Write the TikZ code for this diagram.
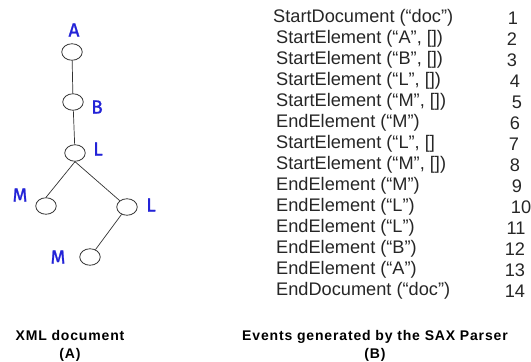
\documentclass[tikz,border=0pt]{standalone}
\usepackage{fontspec}
\usetikzlibrary{shapes.geometric}
\setmainfont{Liberation Sans}
\newfontfamily\lblfont[FakeBold=1.2]{Fira Sans}
\newfontfamily\capfont[LetterSpace=6]{Liberation Sans Bold}
\definecolor{lblblue}{RGB}{35,35,215}
\definecolor{linegray}{RGB}{50,50,50}
\begin{document}
\begin{tikzpicture}[x=1pt,y=-1pt,
  tnode/.style={draw=linegray,line width=0.8pt,ellipse,minimum width=20.5pt,minimum height=16.5pt,inner sep=0pt},
  tlabel/.style={text=lblblue,font=\lblfont\fontsize{19}{19}\selectfont,inner sep=0pt},
  edge/.style={draw=linegray,line width=0.7pt},
  evt/.style={anchor=west,inner sep=0pt,text=black!85,font=\fontsize{18.2}{18.2}\selectfont},
  num/.style={anchor=center,inner sep=0pt,text=black!85,font=\fontsize{18.2}{18.2}\selectfont},
  captext/.style={anchor=center,inner sep=0pt,align=center,font=\capfont\fontsize{14}{18}\selectfont}]
\useasboundingbox (0,0) rectangle (531,362);
% tree
\node[tnode] (A) at (72,52) {};
\node[tnode] (B) at (73,102) {};
\node[tnode] (L1) at (75,153) {};
\node[tnode] (M1) at (46,206) {};
\node[tnode] (L2) at (127,207) {};
\node[tnode] (M2) at (90,257) {};
\node[tlabel] (lA) at (74,30) {A};
\node[tlabel] (lB) at (97,107) {B};
\node[tlabel] (lL1) at (98,149) {L};
\node[tlabel] (lM1) at (20,195) {M};
\node[tlabel] (lL2) at (151,205) {L};
\node[tlabel] (lM2) at (58,257) {M};
\draw[edge] (A) -- (B);
\draw[edge] (B) -- (L1);
\draw[edge] (L1.south) -- (M1.north);
\draw[edge] (L1.south) -- (L2);
\draw[edge] (L2) -- (M2);
% events
\node[evt] (e1) at (273,18) {StartDocument (“doc”)};
\node[evt] (e2) at (276,39) {StartElement (“A”, [])};
\node[evt] (e3) at (276,60) {StartElement (“B”, [])};
\node[evt] (e4) at (276,81) {StartElement (“L”, [])};
\node[evt] (e5) at (276,102) {StartElement (“M”, [])};
\node[evt] (e6) at (276,123) {EndElement (“M”)};
\node[evt] (e7) at (276,144) {StartElement (“L”, []};
\node[evt] (e8) at (276,165) {StartElement (“M”, [])};
\node[evt] (e9) at (276,186) {EndElement (“M”)};
\node[evt] (e10) at (276,207) {EndElement (“L”)};
\node[evt] (e11) at (276,228) {EndElement (“L”)};
\node[evt] (e12) at (276,249) {EndElement (“B”)};
\node[evt] (e13) at (276,270) {EndElement (“A”)};
\node[evt] (e14) at (276,291) {EndDocument (“doc”)};
\node[num] (n1) at (513,18) {1};
\node[num] (n2) at (512,39) {2};
\node[num] (n3) at (512,60) {3};
\node[num] (n4) at (515,81) {4};
\node[num] (n5) at (517,102) {5};
\node[num] (n6) at (515,123) {6};
\node[num] (n7) at (514,144) {7};
\node[num] (n8) at (515,165) {8};
\node[num] (n9) at (517,186) {9};
\node[num] (n10) at (521,207) {10};
\node[num] (n11) at (516,228) {11};
\node[num] (n12) at (515,249) {12};
\node[num] (n13) at (515,270) {13};
\node[num] (n14) at (515,291) {14};
% captions
\node[captext] (capA) at (70,346) {XML document\\(A)};
\node[captext] (capB) at (375,346) {Events generated by the SAX Parser\\(B)};
\end{tikzpicture}
\end{document}
